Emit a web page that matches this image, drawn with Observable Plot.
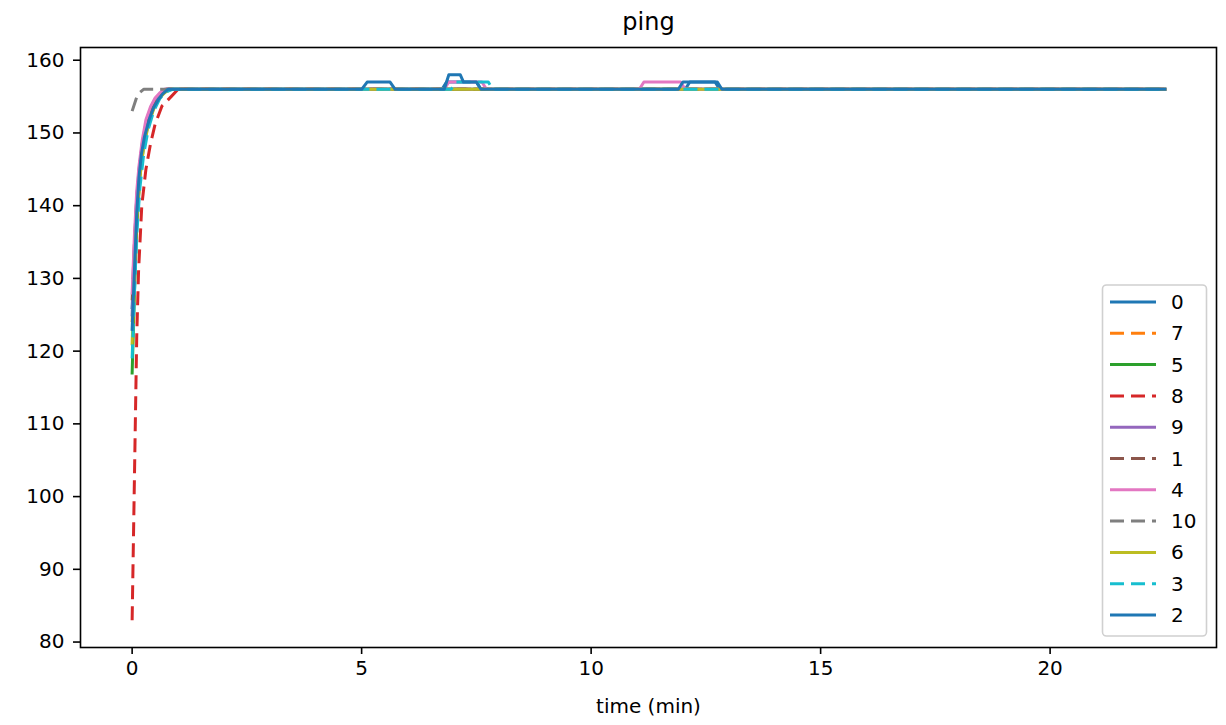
<!DOCTYPE html>
<html>
<head>
<meta charset="utf-8">
<script src="https://cdn.jsdelivr.net/npm/d3@7"></script>
<script src="https://cdn.jsdelivr.net/npm/@observablehq/plot@0.6"></script>
<style>
  html, body { margin: 0; padding: 0; background: white; }
</style>
</head>
<body>
<div id="chart"></div>
<script>
// ---- data ----
const seriesNames = ["0", "7", "5", "8", "9", "1", "4", "10", "6", "3", "2"];
const seriesColors = ["#1f77b4", "#ff7f0e", "#2ca02c", "#d62728", "#9467bd", "#8c564b", "#e377c2", "#7f7f7f", "#bcbd22", "#17becf", "#1f77b4"];
const dashedSeries = ["7", "8", "1", "10", "3"];

// [time (min), ping]
const s0 = [[0,126],[0.05,133],[0.1,140],[0.15,144.5],[0.2,147.3],[0.27,149.8],[0.38,152.2],[0.47,153.6],[0.57,154.7],[0.67,155.5],[0.78,156],
            [6.75,156],[6.85,157],[7.5,157],[7.6,156],[12.05,156],[12.15,157],[12.7,157],[12.8,156],[22.5,156]];
const s7 = [[0,124],[0.05,132],[0.1,139.5],[0.17,145],[0.25,148.8],[0.35,151.6],[0.47,153.7],[0.6,155],[0.75,156],[22.5,156]];
const s5 = [[0,117],[0.05,128],[0.1,137],[0.17,144],[0.25,148.3],[0.35,151.3],[0.47,153.5],[0.6,155],[0.8,156],[22.5,156]];
const s8 = [[0,83],[0.1,122],[0.14,131],[0.21,140],[0.3,145],[0.4,148.5],[0.5,151.2],[0.65,153.7],[0.85,155],[1.0,156],[22.5,156]];
const s9 = [[0,125],[0.05,134],[0.1,141],[0.15,145],[0.22,148.5],[0.3,151.3],[0.4,153.3],[0.5,154.6],[0.62,155.5],[0.72,156],[22.5,156]];
const s1 = [[0,127],[0.05,135],[0.1,141],[0.17,146],[0.25,149.5],[0.35,152],[0.47,154],[0.6,155.3],[0.75,156],[22.5,156]];
const s4 = [[0,128],[0.05,136],[0.1,142],[0.15,145.5],[0.22,149],[0.3,151.8],[0.4,153.6],[0.5,154.8],[0.6,155.5],[0.7,156],
            [6.8,156],[6.9,157],[7.62,157],[7.72,156],[11.05,156],[11.15,157],[11.95,157],[12.05,156],[22.5,156]];
const s10 = [[0,153],[0.12,155.3],[0.25,156],[22.5,156]];
const s6 = [[0,121],[0.05,130],[0.1,138],[0.17,144],[0.25,148],[0.35,151],[0.47,153.3],[0.6,154.8],[0.72,155.6],[0.85,156],[22.5,156]];
const s3 = [[0,119],[0.05,128],[0.1,136],[0.17,142.5],[0.25,147],[0.35,150.5],[0.47,153],[0.6,154.7],[0.72,155.6],[0.88,156],
            [6.95,156],[7.05,157],[7.76,157],[7.86,156],[22.5,156]];
const s2 = [[0,123],[0.05,131],[0.1,139],[0.15,144],[0.2,147],[0.27,149.5],[0.38,152],[0.47,153.5],[0.57,154.6],[0.67,155.4],[0.78,156],
            [5.0,156],[5.12,157],[5.62,157],[5.73,156],
            [6.8,156],[6.9,158],[7.15,158],[7.22,157],[7.5,157],[7.6,156],
            [11.9,156],[12.0,157],[12.75,157],[12.85,156],[22.5,156]];

const seriesData = {"0": s0, "7": s7, "5": s5, "8": s8, "9": s9, "1": s1, "4": s4, "10": s10, "6": s6, "3": s3, "2": s2};
const xTicks = [0, 5, 10, 15, 20];
const yTicks = [80, 90, 100, 110, 120, 130, 140, 150, 160];
const titleText = "ping";
const xLabel = "time (min)";

// ---- build ----
const rows = seriesNames.flatMap(name => seriesData[name].map(([t, v]) => ({series: name, t, v})));

const lineMarks = seriesNames.map(name =>
  Plot.line(rows.filter(d => d.series === name), {
    x: "t", y: "v", stroke: "series",
    strokeWidth: 3,
    strokeLinejoin: "round",
    strokeLinecap: dashedSeries.includes(name) ? "butt" : "square",
    strokeDasharray: dashedSeries.includes(name) ? "14,7" : null
  })
);

const W = 1226, H = 725, mL = 80, mR = 10, mT = 47, mB = 78;

const chart = Plot.plot({
  width: W, height: H,
  marginLeft: mL, marginRight: mR, marginTop: mT, marginBottom: mB,
  style: {fontFamily: "DejaVu Sans", fontSize: "20px", color: "black", background: "white"},
  x: {domain: [-1.125, 23.625]},
  y: {domain: [79.25, 161.75]},
  color: {domain: seriesNames, range: seriesColors},
  marks: [
    ...lineMarks,
    Plot.frame({stroke: "black", strokeWidth: 1.6}),
    Plot.axisX(xTicks, {tickSize: 7, tickPadding: 6, strokeWidth: 1.6, label: null, fontSize: 20}),
    Plot.axisY(yTicks, {tickSize: 7, tickPadding: 9, strokeWidth: 1.6, label: null, fontSize: 20}),
    Plot.text([titleText], {text: d => d, frameAnchor: "top", lineAnchor: "middle", dy: -25, fontSize: 24, fill: "black"}),
    Plot.text([xLabel], {text: d => d, frameAnchor: "bottom", lineAnchor: "middle", dy: 59, fontSize: 20, fill: "black"})
  ]
});

// ---- legend (matplotlib-style box inside the axes) ----
const svg = d3.select(chart);
const lg = svg.append("g").attr("class", "legend").attr("text-anchor", "start");
const boxX = 1102.5, boxY = 285, boxW = 104, boxH = 351;
lg.append("rect")
  .attr("x", boxX).attr("y", boxY).attr("width", boxW).attr("height", boxH)
  .attr("rx", 4).attr("ry", 4)
  .attr("fill", "white").attr("fill-opacity", 0.8)
  .attr("stroke", "#d0d0d0").attr("stroke-width", 1.6);
seriesNames.forEach((name, i) => {
  const y = 302 + i * 31.3;
  lg.append("line")
    .attr("x1", 1110).attr("x2", 1156).attr("y1", y).attr("y2", y)
    .attr("stroke", seriesColors[i]).attr("stroke-width", 3)
    .attr("stroke-dasharray", dashedSeries.includes(name) ? "14,7" : null);
  lg.append("text")
    .attr("x", 1171).attr("y", y).attr("dy", "0.35em")
    .attr("text-anchor", "start")
    .attr("font-family", "DejaVu Sans").attr("font-size", 20).attr("fill", "black")
    .text(name);
});

document.getElementById("chart").appendChild(chart);
</script>
</body>
</html>
